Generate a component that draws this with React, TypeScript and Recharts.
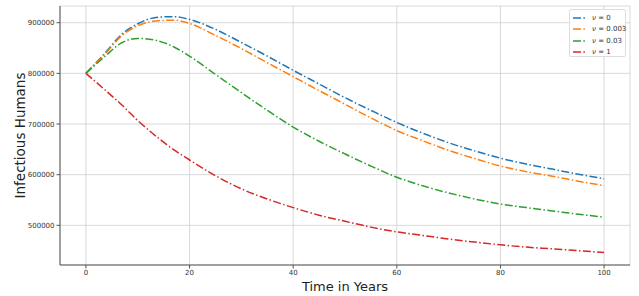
import { LineChart, Line, XAxis, YAxis, CartesianGrid, Legend } from 'recharts'

const years = [0, 3.5, 7, 10, 14, 17, 20, 25, 30, 35, 40, 45, 50, 55, 60, 65, 70, 75, 80, 85, 90, 95, 100]
const nu0 = [800000, 838000, 878000, 898000, 911000, 912000, 906500, 887000, 861000, 834000, 806000, 779000, 752000, 727000, 703000, 682000, 663000, 647000, 632500, 621000, 611000, 601000, 592000]
const nu0003 = [800000, 836000, 875000, 894000, 904000, 905000, 898500, 875000, 849000, 821000, 793500, 766000, 739000, 712000, 687000, 667000, 648000, 632000, 617000, 606000, 597000, 587000, 578500]
const nu003 = [800000, 832000, 861000, 869000, 864000, 852000, 834000, 798000, 762000, 727000, 694000, 666000, 641000, 617000, 595000, 578000, 564000, 552000, 542000, 535000, 528500, 522000, 516000]
const nu1 = [800000, 769000, 737000, 707000, 672000, 649000, 629000, 598000, 572000, 552000, 535000, 520000, 508000, 496500, 487000, 480000, 473000, 467000, 461500, 457000, 453500, 450000, 446500]

const xTicks = [0, 20, 40, 60, 80, 100]
const yTicks = [500000, 600000, 700000, 800000, 900000]

const series = [
  { key: 'nu0', label: '0', color: '#1f77b4' },
  { key: 'nu0003', label: '0.003', color: '#ff7f0e' },
  { key: 'nu003', label: '0.03', color: '#2ca02c' },
  { key: 'nu1', label: '1', color: '#d62728' },
]

const data = years.map((t, i) => ({
  t,
  nu0: nu0[i],
  nu0003: nu0003[i],
  nu003: nu003[i],
  nu1: nu1[i],
}))

const font = 'DejaVu Sans, sans-serif'
const dash = '8 2.4 1.5 2.4'

function LegendBox() {
  return (
    <div
      style={{
        position: 'absolute',
        left: 569,
        top: 9,
        width: 57,
        height: 48,
        boxSizing: 'border-box',
        border: '1px solid #dddddd',
        borderRadius: 2,
        background: '#ffffff',
        fontFamily: font,
        fontSize: 7,
        color: '#333',
        paddingTop: 2,
        whiteSpace: 'nowrap',
      }}
    >
      {series.map((s) => (
        <div key={s.key} style={{ display: 'flex', alignItems: 'center', height: 11.5 }}>
          <svg width={20} height={6} style={{ marginLeft: 2, flexShrink: 0 }}>
            <line x1={1} y1={3} x2={13} y2={3} stroke={s.color} strokeWidth={1.5} strokeDasharray={dash} />
          </svg>
          <span>
            <i>ν</i> = {s.label}
          </span>
        </div>
      ))}
    </div>
  )
}

export default function App() {
  return (
    <div style={{ position: 'absolute', left: 0, top: 0, width: 639, height: 296, background: '#fff' }}>
      <LineChart width={639} height={296} data={data} margin={{ top: 6, right: 9, left: 0, bottom: 0 }}>
        <CartesianGrid stroke="#cfcfcf" strokeWidth={0.8} />
        <XAxis
          dataKey="t"
          type="number"
          domain={[-5, 105]}
          ticks={xTicks}
          height={31}
          tickSize={3.5}
          tickMargin={2}
          stroke="#555"
          tick={{ fill: '#333', fontSize: 7, fontFamily: font }}
          label={{ value: 'Time in Years', position: 'insideBottom', offset: 5, fill: '#222', fontSize: 13, fontFamily: font }}
        />
        <XAxis xAxisId="top" orientation="top" type="number" domain={[-5, 105]} height={0} tick={false} tickLine={false} stroke="#555" />
        <YAxis
          type="number"
          domain={[421700, 933000]}
          ticks={yTicks}
          width={60}
          tickSize={3.5}
          tickMargin={2}
          stroke="#555"
          tick={{ fill: '#333', fontSize: 7, fontFamily: font }}
          label={{ value: 'Infectious Humans', angle: -90, position: 'center', dx: -10, fill: '#222', fontSize: 13.5, fontFamily: font }}
        />
        <YAxis yAxisId="right" orientation="right" type="number" domain={[421700, 933000]} width={0} tick={false} tickLine={false} stroke="#555" />
        {series.map((s) => (
          <Line
            key={s.key}
            type="monotone"
            dataKey={s.key}
            stroke={s.color}
            strokeWidth={1.5}
            strokeDasharray={dash}
            dot={false}
            isAnimationActive={false}
          />
        ))}
        <Legend content={() => null} />
      </LineChart>
      <LegendBox />
    </div>
  )
}
